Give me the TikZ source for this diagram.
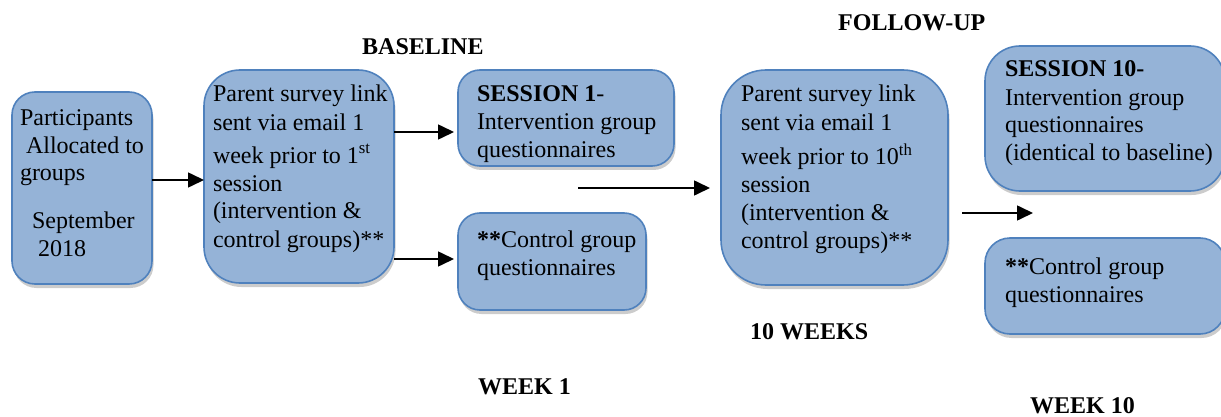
\documentclass[tikz,border=0pt]{standalone}
\usepackage{fontspec}
\setmainfont{Liberation Serif}
\usepackage{tikz}
\usetikzlibrary{positioning,arrows.meta,shadows}
\usepackage{xcolor}
\definecolor{boxfill}{RGB}{149,179,215}
\definecolor{boxline}{RGB}{79,129,189}

% text block inside a box: height, width, lines
\newcommand{\boxtext}[3]{\parbox[c][#1][t]{#2}{\begin{tabular}[t]{@{}l@{}}#3\end{tabular}}}

\begin{document}
\begin{tikzpicture}[x=1pt, y=-1pt,
    stageBox/.style={rectangle, draw=boxline, fill=boxfill, line width=1.6pt, anchor=north west, outer sep=0pt,
        font=\fontsize{24}{28}\selectfont, drop shadow={shadow xshift=1.5pt, shadow yshift=-4pt, opacity=0.2, fill=black}},
    headLabel/.style={anchor=base west, inner sep=0pt, font=\fontsize{24}{28}\selectfont\bfseries},
    arrowStyle/.style={-{Triangle[length=16pt, width=15pt]}, line width=1.6pt, draw=black}
]
    \useasboundingbox (0,0) rectangle (1221,417);

    \node[stageBox, rounded corners=23pt, inner xsep=8pt, inner ysep=13.4pt] (part) at (12,92) {%
        \boxtext{165.2pt}{124pt}{Participants\\ \hspace*{6pt}Allocated to\\ groups\\[19pt]
        \hspace*{12pt}September\\ \hspace*{18pt}2018}};

    \node[stageBox, rounded corners=36pt, inner xsep=9pt, inner ysep=12.4pt] (link1) at (204,70) {%
        \boxtext{188.2pt}{172pt}{Parent survey link\\ sent via email 1\\[5pt] week prior to 1\textsuperscript{st}\\
        session\\ (intervention \&\\ control groups)**}};

    \node[stageBox, rounded corners=22pt, inner xsep=19pt, inner ysep=12.4pt] (sess1) at (458,70) {%
        \boxtext{71.2pt}{178pt}{\textbf{SESSION 1}-\\ Intervention group\\ questionnaires}};

    \node[stageBox, rounded corners=22pt, inner xsep=19pt, inner ysep=14.4pt] (ctrl1) at (458,213) {%
        \boxtext{68.2pt}{150pt}{\textbf{**}Control group\\ questionnaires}};

    \node[stageBox, rounded corners=45pt, inner xsep=20pt, inner ysep=12.4pt] (link10) at (721,70) {%
        \boxtext{190.2pt}{187pt}{Parent survey link\\ sent via email 1\\[5pt] week prior to 10\textsuperscript{th}\\
        session\\ (intervention \&\\ control groups)**}};

    \node[stageBox, rounded corners=35pt, inner xsep=20pt, inner ysep=11.4pt] (sess10) at (985,46) {%
        \boxtext{122.2pt}{200pt}{\textbf{SESSION 10-}\\ Intervention group\\ questionnaires\\ (identical to baseline)}};

    \node[stageBox, rounded corners=25pt, inner xsep=20pt, inner ysep=16.4pt] (ctrl10) at (985,238) {%
        \boxtext{63.2pt}{200pt}{\textbf{**}Control group\\ questionnaires}};

    % time labels
    \node[headLabel] (base) at (362,55) {BASELINE};
    \node[headLabel] (follow) at (838,31) {FOLLOW-UP};
    \node[headLabel] (tenweeks) at (750,339) {10 WEEKS};
    \node[headLabel] (week1) at (478,394) {WEEK 1};
    \node[headLabel] (week10) at (1030,413) {WEEK 10};

    % arrows
    \coordinate (midA) at (578,188);
    \coordinate (midB) at (710,188);
    \coordinate (endA) at (962,213);
    \coordinate (endB) at (1033,213);
    \draw[arrowStyle] (part.east |- 0,180) -- (link1.west |- 0,180);
    \draw[arrowStyle, shorten >=4pt] (link1.east |- 0,132) -- (sess1.west |- 0,132);
    \draw[arrowStyle, shorten >=4pt] (link1.east |- 0,259) -- (ctrl1.west |- 0,259);
    \draw[arrowStyle] (midA) -- (midB);
    \draw[arrowStyle] (endA) -- (endB);
\end{tikzpicture}
\end{document}
